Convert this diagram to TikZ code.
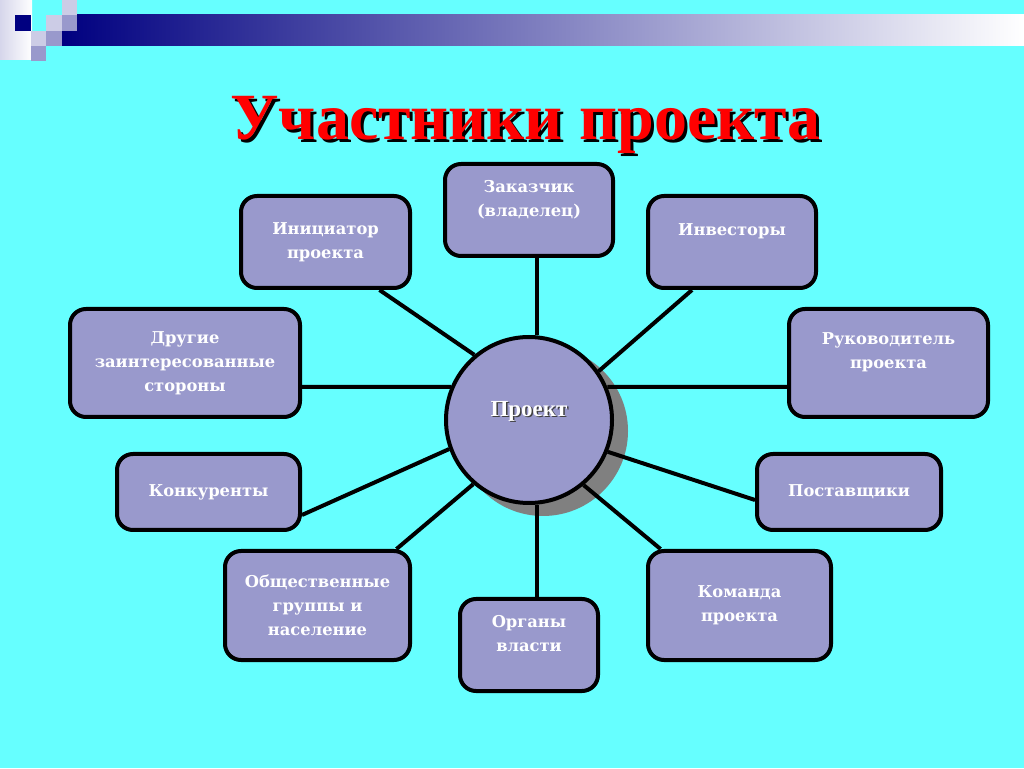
\documentclass[tikz,border=0pt]{standalone}
\usepackage{fontspec}
\newfontfamily\partfont{DejaVu Serif}
\newfontfamily\headfont{Liberation Serif}
\usetikzlibrary{positioning}
\definecolor{sky}{HTML}{66FFFF}
\definecolor{lilac}{HTML}{9999CC}
\definecolor{paleLilac}{HTML}{CCCCE6}
\definecolor{deepNavy}{HTML}{000080}
\pgfdeclarelayer{back}
\pgfdeclarelayer{links}
\pgfsetlayers{back,links,main}
\tikzset{part node/.style={rectangle,rounded corners=16pt,draw,line width=4pt,fill=lilac,text=white,align=center,inner sep=0pt,font={\partfont\bfseries\fontsize{16.3}{24}\selectfont}}}
\tikzset{hub node/.style={circle,draw,line width=4pt,fill=lilac,minimum size=166pt,inner sep=0pt}}
\tikzset{hub text/.style={font={\headfont\bfseries\fontsize{23}{27}\selectfont}}}
\tikzset{head text/.style={anchor=base,font={\headfont\bfseries\fontsize{66}{78}\selectfont}}}
\tikzset{link/.style={line width=4pt}}

\begin{document}
\begin{tikzpicture}[x=1pt,y=1pt,on grid]
    \useasboundingbox (0,0) rectangle (1024,768);

    \node[head text,text=black] (ttl_{s}) at (528.5,625) {Участники проекта};
    \node[head text,text=red] (ttl) at (525.5,628) {Участники проекта};

    \node[hub node,label={[hub text,text=black!75,xshift=1.5pt,yshift=7.5pt]center:Проект},label={[hub text,text=white,yshift=9pt]center:Проект}] (pr) at (529,348) {};

    \node[part node,minimum width=168pt,minimum height=92pt] (zak) [above=210pt of pr] {Заказчик\\(владелец)\\~};
    \node[part node,minimum width=169pt,minimum height=92pt] (ini) [above left=178pt and 203.5pt of pr] {Инициатор\\проекта};
    \node[part node,minimum width=168pt,minimum height=92pt] (inv) [above right=178pt and 203pt of pr] {Инвесторы\\~};
    \node[part node,minimum width=230pt,minimum height=108pt] (dr) [above left=57pt and 344pt of pr] {Другие\\заинтересованные\\стороны};
    \node[part node,minimum width=199pt,minimum height=108pt] (ruk) [above right=57pt and 359.5pt of pr] {Руководитель\\проекта\\~};
    \node[part node,minimum width=183pt,minimum height=76pt] (kon) [below left=72pt and 320.5pt of pr] {Конкуренты};
    \node[part node,minimum width=184pt,minimum height=76pt] (post) [below right=72pt and 320pt of pr] {Поставщики};
    \node[part node,minimum width=185pt,minimum height=109pt] (obsh) [below left=185.5pt and 211.5pt of pr] {Общественные\\группы и\\население};
    \node[part node,minimum width=138pt,minimum height=92pt] (org) [below=225pt of pr] {Органы\\власти\\~};
    \node[part node,minimum width=183pt,minimum height=109pt] (kom) [below right=185.5pt and 210.5pt of pr] {Команда\\проекта};

    % spokes behind the circle
    \begin{pgfonlayer}{links}
    \path [link]
    ([xshift=8pt]zak.south) edge ([xshift=8pt]pr.north)
    ([xshift=54pt]ini.south) edge (pr.130)
    ([xshift=-40pt]inv.south) edge (pr.35)
    ([yshift=-24pt]dr.east) edge (pr.157)
    ([yshift=-24pt]ruk.west) edge (pr.23)
    ([yshift=-23pt]kon.east) edge (pr.200)
    ([yshift=-8pt]post.west) edge (pr.338)
    ([xshift=79pt]obsh.north) edge (pr.229)
    ([xshift=8pt]org.north) edge ([xshift=8pt]pr.south)
    ([xshift=-79pt]kom.north) edge (pr.310);
    \end{pgfonlayer}

    % slide background, corner squares, shadow
    \begin{pgfonlayer}{back}
    \fill[sky] (0,0) rectangle (1024,768);
    \shade[left color=paleLilac!80,right color=white] (0,708) rectangle (32,768);
    \shade[left color=deepNavy,right color=white] (62,722) rectangle (1024,753);
    \fill[deepNavy] (15,737) rectangle (31,753);
    \fill[paleLilac] (62,753) rectangle (77,768);
    \fill[paleLilac] (46,737) rectangle (62,753);
    \fill[lilac] (62,737) rectangle (77,753);
    \fill[paleLilac] (31,722) rectangle (46,737);
    \fill[lilac] (46,722) rectangle (62,737);
    \fill[lilac] (31,707) rectangle (46,722);
    \fill[gray] ([shift={(14pt,-11pt)}]pr.center) circle (85pt);
    \end{pgfonlayer}
\end{tikzpicture}
\end{document}
